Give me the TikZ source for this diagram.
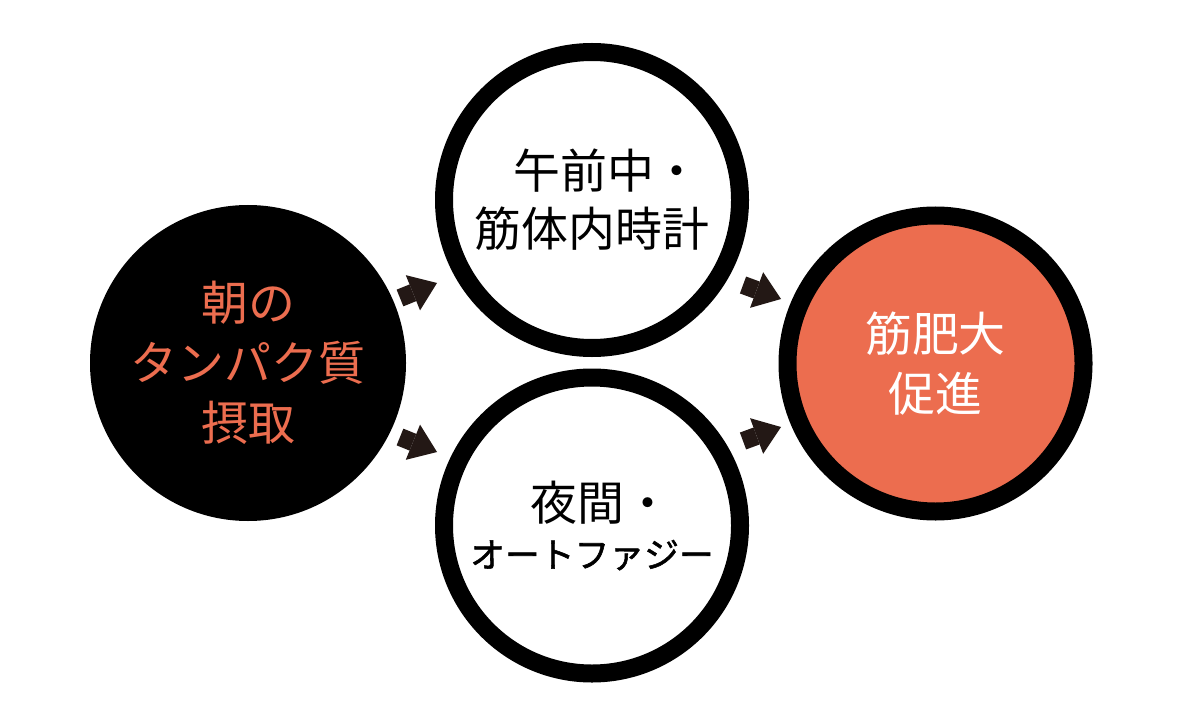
\documentclass[tikz,border=0pt]{standalone}
\usepackage{fontspec}
\setmainfont{Noto Sans CJK JP}
\newfontfamily\heavyfont[FakeBold=1.5]{Noto Sans CJK JP}
\usetikzlibrary{arrows.meta}
\definecolor{accent}{HTML}{EC6D4F}
\definecolor{inkblack}{HTML}{231815}
\tikzset{
	stage/.style={circle, draw=black, line width=0.36cm, minimum size=5.92cm, inner sep=0pt, align=center, font=\fontsize{26.7}{34}\selectfont},
	flow/.style={inkblack, line width=0.36cm, -{Triangle[length=0.52cm, width=0.76cm, line width=0pt]}}
}

\begin{document}
\begin{tikzpicture}
		%%%%% START %%%%%
		
		\useasboundingbox[fill=white] (0, 0) rectangle (24, 14.54);
		
		\node[circle, fill=black, minimum size=6.32cm, inner sep=0pt, align=center, text=accent, font=\fontsize{26.7}{34}\selectfont] (morning) at (4.96, 7.28) {朝の\\タンパク質\\摂取};
		
		\node[stage, fill=white] (forenoon) at (11.84, 10.54) {\hspace*{0.6cm}午前中・\\[-1pt]筋体内時計};
		\node[stage, fill=white] (night) at (11.84, 4.03) {\hspace*{0.36cm}夜間・\\[-7pt]{\fontsize{19.8}{24}\heavyfont オートファジー}};
		
		\node[stage, fill=accent, text=white] (growth) at (18.71, 7.27) {筋肥大\\促進};
		
		\coordinate (a1s) at (8.00, 8.58);
		\coordinate (a1e) at (8.74, 8.88);
		\coordinate (a2s) at (8.00, 5.80);
		\coordinate (a2e) at (8.74, 5.50);
		\coordinate (a3s) at (14.86, 8.84);
		\coordinate (a3e) at (15.62, 8.56);
		\coordinate (a4s) at (14.86, 5.72);
		\coordinate (a4e) at (15.62, 6.00);
		
		\draw[flow] (a1s) -- (a1e);
		\draw[flow] (a2s) -- (a2e);
		\draw[flow] (a3s) -- (a3e);
		\draw[flow] (a4s) -- (a4e);
		
		%%%%% END %%%%%
	\end{tikzpicture}
\end{document}
